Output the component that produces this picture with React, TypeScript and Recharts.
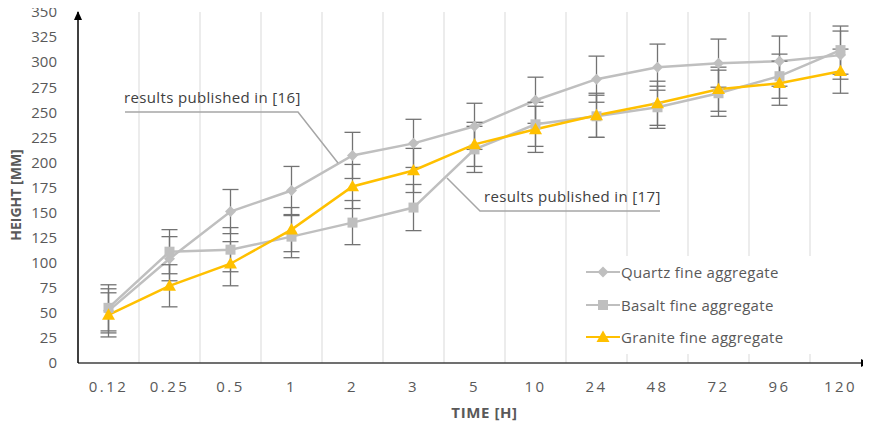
import { CartesianGrid, ComposedChart, ErrorBar, Line, XAxis, YAxis } from "recharts";

const times = ["0.12", "0.25", "0.5", "1", "2", "3", "5", "10", "24", "48", "72", "96", "120"];

const quartz = [52, 104, 151, 172, 207, 219, 236, 262, 283, 295, 299, 301, 307];
const quartzErr = [22, 22, 22, 24, 23, 24, 23, 23, 23, 23, 24, 25, 24];

const basalt = [55, 111, 113, 126, 140, 155, 213, 238, 246, 255, 269, 286, 312];
const basaltErr = [23, 22, 22, 21, 22, 23, 23, 22, 21, 21, 23, 22, 24];

const granite = [48, 77, 99, 133, 176, 192, 218, 233, 247, 259, 273, 279, 291];
const graniteErr = [22, 21, 22, 22, 22, 22, 22, 23, 22, 22, 22, 22, 22];

const yTicks = [0, 25, 50, 75, 100, 125, 150, 175, 200, 225, 250, 275, 300, 325, 350];

const series = [
  { key: "quartz", name: "Quartz fine aggregate", color: "#bfbfbf", shape: "diamond" },
  { key: "basalt", name: "Basalt fine aggregate", color: "#bfbfbf", shape: "square" },
  { key: "granite", name: "Granite fine aggregate", color: "#ffc000", shape: "triangle" }
];

const data = times.map((t, i) => ({
  time: t,
  quartz: quartz[i],
  quartzErr: quartzErr[i],
  basalt: basalt[i],
  basaltErr: basaltErr[i],
  granite: granite[i],
  graniteErr: graniteErr[i]
}));

const W = 863;
const H = 416;
const textColor = "#595959";
const font = "'Open Sans', sans-serif";

function Marker({ cx, cy, shape, color }: { cx: number; cy: number; shape: string; color: string }) {
  if (shape === "diamond") {
    const r = 5.5;
    return <polygon points={`${cx},${cy - r} ${cx + r},${cy} ${cx},${cy + r} ${cx - r},${cy}`} fill={color} />;
  }
  if (shape === "square") {
    const r = 5;
    return <rect x={cx - r} y={cy - r} width={r * 2} height={r * 2} fill={color} />;
  }
  const r = 6.5;
  return <polygon points={`${cx},${cy - r} ${cx + r},${cy + r * 0.75} ${cx - r},${cy + r * 0.75}`} fill={color} />;
}

function makeDot(shape: string, color: string) {
  return (props: any) => {
    const { cx, cy, index } = props;
    if (cx == null || cy == null) return <g key={index} />;
    return (
      <g key={index}>
        <Marker cx={cx} cy={cy} shape={shape} color={color} />
      </g>
    );
  };
}

function LegendBox() {
  return (
    <div
      style={{
        position: "absolute",
        left: 570,
        top: 248,
        width: 245,
        background: "#fff",
        padding: "0 8px",
        fontFamily: font,
        fontSize: 15,
        letterSpacing: 0.3,
        color: textColor
      }}
    >
      {series.map((s) => (
        <div key={s.key} style={{ display: "flex", alignItems: "center", height: 32.5 }}>
          <svg width={34} height={14} style={{ marginRight: 1 }}>
            <line x1={0} y1={7} x2={34} y2={7} stroke={s.color} strokeWidth={2} />
            <Marker cx={17} cy={7} shape={s.shape} color={s.color} />
          </svg>
          <span>{s.name}</span>
        </div>
      ))}
    </div>
  );
}

export default function App() {
  return (
    <div style={{ position: "relative", width: W, height: H }}>
      <style>{".recharts-surface { overflow: visible; }"}</style>
      <ComposedChart width={W} height={H} data={data} margin={{ top: 4, right: 0, bottom: 0, left: 0 }}>
        <CartesianGrid
          horizontal={false}
          stroke="#d9d9d9"
          strokeWidth={1}
          verticalCoordinatesGenerator={({ offset }: any) =>
            times.slice(1).map((_, i) => offset.left + ((i + 1) * offset.width) / times.length)
          }
        />
        <XAxis
          dataKey="time"
          scale="band"
          height={61}
          axisLine={{ stroke: "#404040", strokeWidth: 1.5 }}
          tickLine={false}
          tickMargin={12}
          interval={0}
          tick={{ fill: textColor, fontSize: 15, fontFamily: font, letterSpacing: 2.5 }}
          label={{
            value: "TIME [H]",
            position: "insideBottom",
            offset: 6,
            dx: 10,
            fill: textColor,
            fontSize: 15,
            fontWeight: 700,
            letterSpacing: 0.6,
            fontFamily: font
          }}
        />
        <YAxis
          width={70}
          domain={[0, 350]}
          ticks={yTicks}
          interval={0}
          axisLine={{ stroke: "#000", strokeWidth: 1.5 }}
          tickLine={false}
          tickMargin={15}
          tick={{ fill: textColor, fontSize: 15, fontFamily: font }}
        />
        {series.map((s) => (
          <Line
            key={s.key}
            dataKey={s.key}
            name={s.name}
            type="linear"
            stroke={s.color}
            strokeWidth={2.5}
            dot={makeDot(s.shape, s.color)}
            activeDot={false}
            isAnimationActive={false}
          >
            <ErrorBar dataKey={`${s.key}Err`} direction="y" width={8} stroke="#737373" strokeWidth={1.3} />
          </Line>
        ))}
      </ComposedChart>
      <LegendBox />
      <svg width={W} height={H} style={{ position: "absolute", left: 0, top: 0, pointerEvents: "none", overflow: "visible" }}>
        <polygon points="70,3 66,12 74,12" fill="#000" />
        <polygon points="862,355 853,351 853,359" fill="#000" />
        <text
          x={7}
          y={187}
          transform="rotate(-90 7 187)"
          textAnchor="middle"
          dominantBaseline="central"
          fontFamily={font}
          fontSize={14}
          fontWeight={700}
          fill={textColor}
        >
          HEIGHT [MM]
        </text>
        <polyline points="117,104 290,104 330,155" fill="none" stroke="#a6a6a6" strokeWidth={1.5} />
        <text x={116} y={95} fontFamily={font} fontSize={15} letterSpacing={0.35} fill="#404040">
          results published in [16]
        </text>
        <polyline points="439,170 472,203 652,203" fill="none" stroke="#a6a6a6" strokeWidth={1.5} />
        <text x={476} y={194} fontFamily={font} fontSize={15} letterSpacing={0.35} fill="#404040">
          results published in [17]
        </text>
      </svg>
    </div>
  );
}
